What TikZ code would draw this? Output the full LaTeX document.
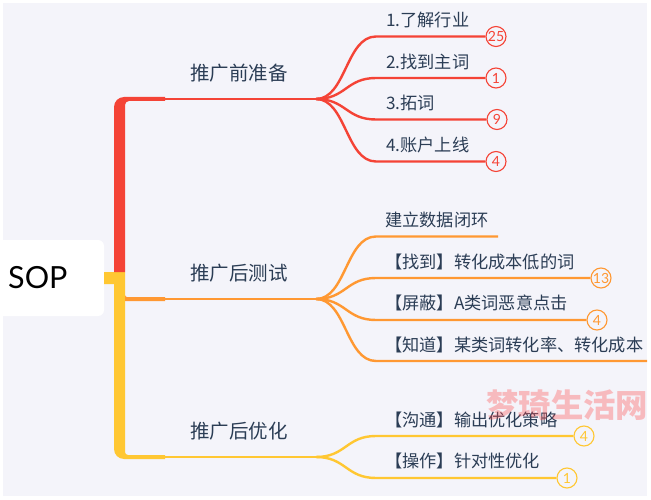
\documentclass[tikz,border=0pt]{standalone}
\usepackage{fontspec}
\setmainfont{Lato}
\newfontfamily\cjkf{Noto Sans CJK SC}
\definecolor{bgc}{HTML}{F4F4FA}
\definecolor{redc}{HTML}{F44336}
\definecolor{orac}{HTML}{FF9832}
\definecolor{yelc}{HTML}{FFC732}
\definecolor{inkc}{HTML}{2B3D55}
\tikzset{
  x=1pt,y=-1pt,
  rootbox/.style={fill=white,rounded corners=6pt,minimum width=110pt,minimum height=76pt,inner sep=0pt},
  rootlabel/.style={font=\fontsize{30.5}{30}\selectfont,text=black,inner sep=0pt,anchor=west},
  topic/.style={font=\cjkf\fontsize{19.5}{20}\selectfont,text=inkc,inner sep=0pt,anchor=west},
  leaf/.style={font=\cjkf\fontsize{17.2}{18}\selectfont,text=inkc,inner sep=0pt,anchor=west},
  badge/.style={draw=#1,line width=1.1pt,fill=bgc,circle,minimum size=20pt,inner sep=0pt,text=#1,font=\fontsize{14}{14}\selectfont},
  branch/.style={draw=#1,line width=2.4pt},
}
\begin{document}
\begin{tikzpicture}
\useasboundingbox (0,0) rectangle (651,500);
\fill[bgc] (3,3) rectangle (647,495.5);
\node[rootbox] (root) at (49,278) {};
\node[rootlabel] (rootl) at (8,278) {SOP};
% trunks
\fill[yelc] (104,272) -- (125,272) -- (125,452) arc[start angle=180,end angle=90,radius=3] -- (165,455) -- (165,459) -- (124,459) arc[start angle=90,end angle=180,radius=10] -- (114,284) -- (104,284) -- cycle;
\fill[orac] (125,295) arc[start angle=180,end angle=90,radius=2] -- (165,297) -- (165,301) -- (125,301) -- cycle;
\fill[redc] (114,272) -- (114,107) arc[start angle=180,end angle=270,radius=10] -- (165,97) -- (165,101) -- (129,101) arc[start angle=270,end angle=180,radius=4] -- (125,272) -- cycle;
% junction coordinates
\coordinate (ra) at (165,99);   \coordinate (rf) at (316,99);
\coordinate (oa) at (165,299);  \coordinate (of) at (316,299);
\coordinate (ya) at (165,457);  \coordinate (yf) at (316,457);
% topics
\node[topic] (t1) at (190,73) {推广前准备};
\node[topic] (t2) at (190,273) {推广后测试};
\node[topic] (t3) at (190,431) {推广后优化};
% main branches
\draw[branch=redc] (ra) -- (rf);
\draw[branch=orac] (oa) -- (of);
\draw[branch=yelc] (ya) -- (yf);
% badges
\node[badge=redc] (b1) at (496,36.5) {25};
\node[badge=redc] (b2) at (496,78) {1};
\node[badge=redc] (b3) at (497,119.5) {9};
\node[badge=redc] (b4) at (496,161.5) {4};
\node[badge=orac] (b6) at (601,278) {13};
\node[badge=orac] (b7) at (597,320) {4};
\node[badge=yelc] (b9) at (584,436) {4};
\node[badge=yelc] (b10) at (567,478) {1};
\coordinate (b5) at (498,236.5);
\coordinate (b8) at (647,361);
% leaf labels
\node[leaf] (l1) at (386,20) {1.了解行业};
\node[leaf] (l2) at (386,62) {2.找到主词};
\node[leaf] (l3) at (386,103) {3.拓词};
\node[leaf] (l4) at (386,145) {4.账户上线};
\node[leaf] (l5) at (385,220) {建立数据闭环};
\node[leaf] (l6) at (385,262) {【找到】转化成本低的词};
\node[leaf] (l7) at (385,303) {【屏蔽】A类词恶意点击};
\node[leaf] (l8) at (385,345) {【知道】某类词转化率、转化成本};
\node[leaf] (l9) at (385,420) {【沟通】输出优化策略};
\node[leaf] (l10) at (385,461) {【操作】针对性优化};
% leaf connectors
\foreach \s/\y/\e/\c in {rf/36.5/b1/redc,rf/78/b2/redc,rf/119.5/b3/redc,rf/161.5/b4/redc,of/236.5/b5/orac,of/278/b6/orac,of/320/b7/orac,of/361/b8/orac,yf/436/b9/yelc,yf/478/b10/yelc}{
  \draw[branch=\c] (\s) .. controls +(30,0) and (346,\y) .. (376,\y) -- (\e);
}
% watermark
\node[font=\cjkf\bfseries\fontsize{32.4}{33}\selectfont,text=red!70!white,opacity=.34,inner sep=0pt,anchor=west] (wm) at (486,405) {梦琦生活网};
\end{tikzpicture}
\end{document}
